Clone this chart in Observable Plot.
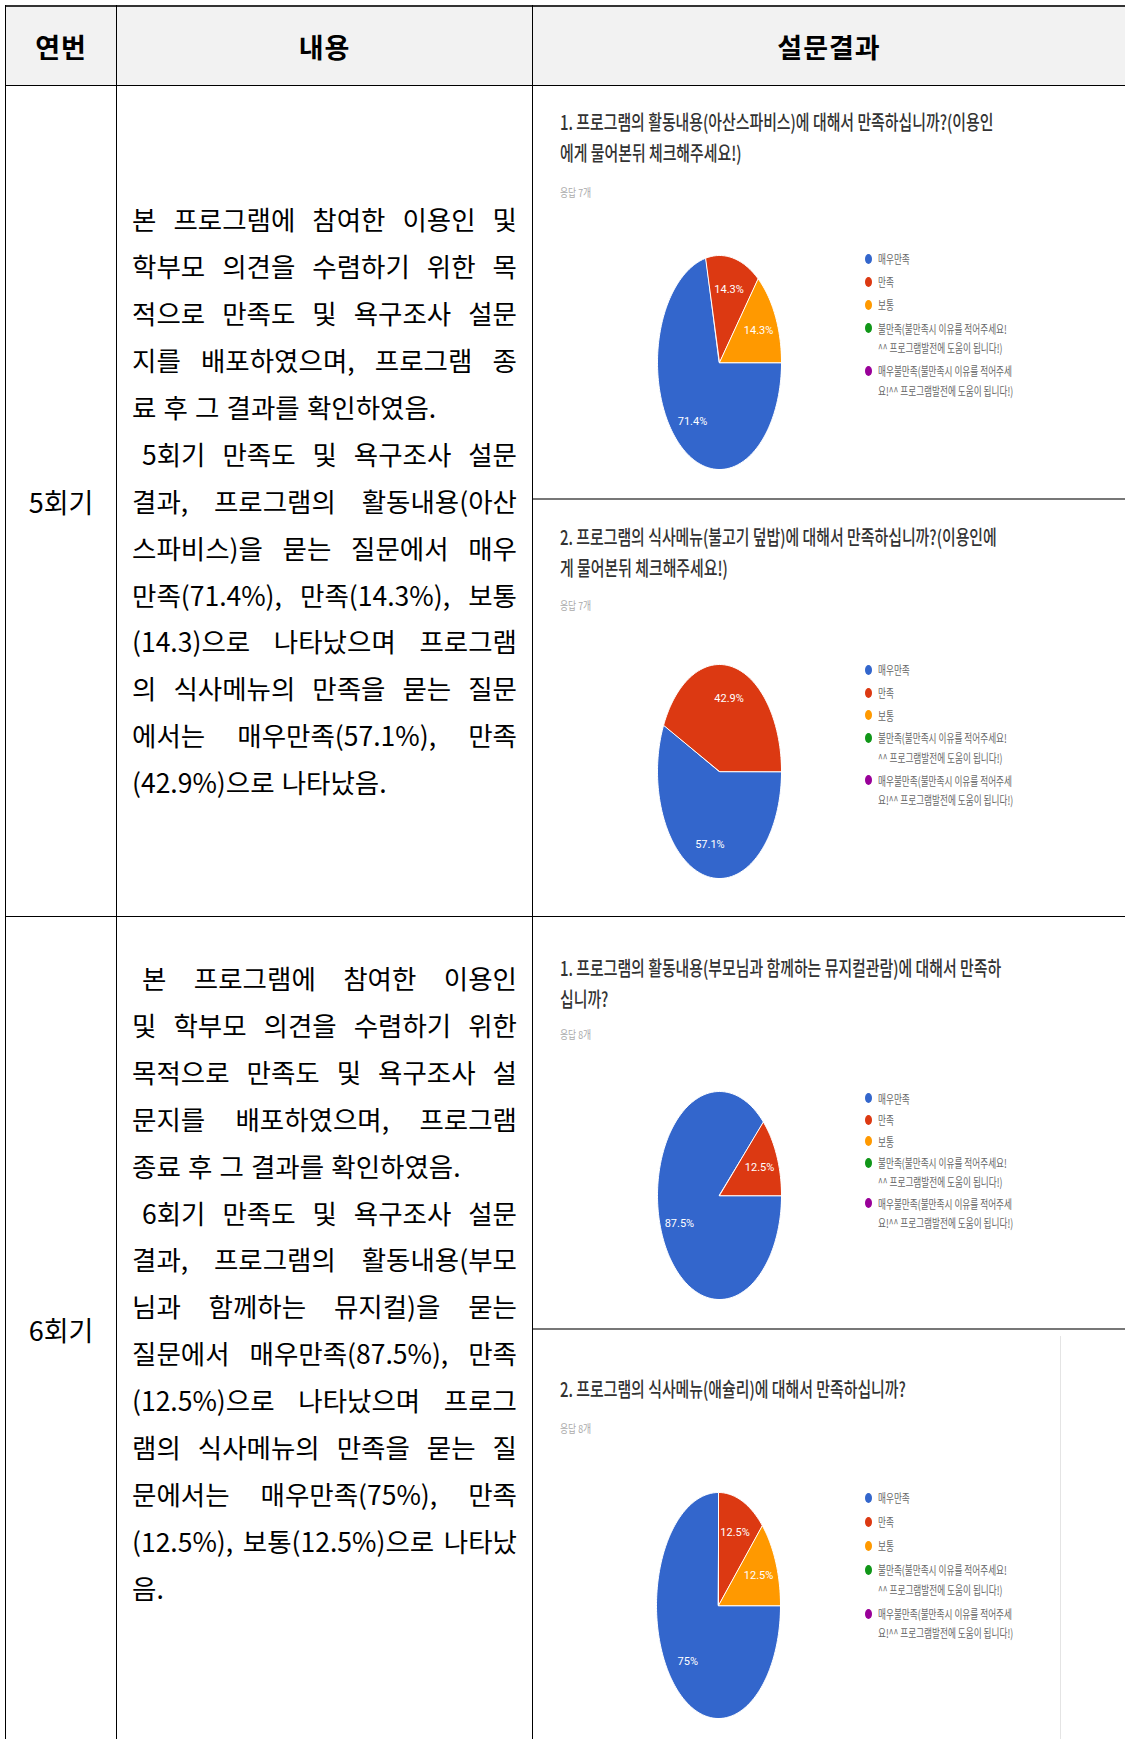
<!DOCTYPE html>
<html><head><meta charset="utf-8">
<script src="https://cdn.jsdelivr.net/npm/d3@7"></script>
<script src="https://cdn.jsdelivr.net/npm/@observablehq/plot@0.6"></script>
<style>
html,body{margin:0;padding:0;background:#fff;}
body{width:1125px;height:1739px;position:relative;overflow:hidden;font-family:"Noto Sans CJK KR","Noto Sans",sans-serif;color:#000;}
.abs{position:absolute;}
.cell{position:absolute;display:flex;align-items:center;justify-content:center;}
.line{position:absolute;white-space:nowrap;display:flex;overflow:visible;}
.line.j{justify-content:space-between;}
.line.n span{margin-right:0.27em;}
.title{position:absolute;white-space:nowrap;transform-origin:left top;color:#333;font-weight:500;}
.count{position:absolute;white-space:nowrap;transform-origin:left center;color:#aaa;font-size:11px;}
.leg{position:absolute;display:flex;flex-direction:column;}
.legitem{position:relative;}
.legdot{position:absolute;left:0;width:7px;height:10px;border-radius:50%;}
.legtxt{margin-left:13px;white-space:nowrap;transform-origin:left top;transform:scaleX(0.72);color:#666;font-size:12px;}
</style>
</head><body>
<script>
// ---------- data ----------
const headers = ["연번", "내용", "설문결과"];
const sessions = ["5회기", "6회기"];
const row1Paragraphs = [
  ["본 프로그램에 참여한 이용인 및", "학부모 의견을 수렴하기 위한 목", "적으로 만족도 및 욕구조사 설문", "지를 배포하였으며, 프로그램 종", "료 후 그 결과를 확인하였음."],
  [" 5회기 만족도 및 욕구조사 설문", "결과, 프로그램의 활동내용(아산", "스파비스)을 묻는 질문에서 매우", "만족(71.4%), 만족(14.3%), 보통", "(14.3)으로 나타났으며 프로그램", "의 식사메뉴의 만족을 묻는 질문", "에서는 매우만족(57.1%), 만족", "(42.9%)으로 나타났음."]
];
const row2Paragraphs = [
  [" 본 프로그램에 참여한 이용인", "및 학부모 의견을 수렴하기 위한", "목적으로 만족도 및 욕구조사 설", "문지를 배포하였으며, 프로그램", "종료 후 그 결과를 확인하였음."],
  [" 6회기 만족도 및 욕구조사 설문", "결과, 프로그램의 활동내용(부모", "님과 함께하는 뮤지컬)을 묻는", "질문에서 매우만족(87.5%), 만족", "(12.5%)으로 나타났으며 프로그", "램의 식사메뉴의 만족을 묻는 질", "문에서는 매우만족(75%), 만족", "(12.5%), 보통(12.5%)으로 나타났", "음."]
];
const categories = ["매우만족", "만족", "보통", "불만족", "매우불만족"];
const legendLines = [
  ["매우만족"],
  ["만족"],
  ["보통"],
  ["불만족(불만족시 이유를 적어주세요!", "^^ 프로그램발전에 도움이 됩니다!)"],
  ["매우불만족(불만족시 이유를 적어주세", "요!^^ 프로그램발전에 도움이 됩니다!)"]
];
const colors = ["#3366cc", "#dc3912", "#ff9900", "#109618", "#990099"];
const questionTitles = [
  ["1. 프로그램의 활동내용(아산스파비스)에 대해서 만족하십니까?(이용인", "에게 물어본뒤 체크해주세요!)"],
  ["2. 프로그램의 식사메뉴(불고기 덮밥)에 대해서 만족하십니까?(이용인에", "게 물어본뒤 체크해주세요!)"],
  ["1. 프로그램의 활동내용(부모님과 함께하는 뮤지컬관람)에 대해서 만족하", "십니까?"],
  ["2. 프로그램의 식사메뉴(애슐리)에 대해서 만족하십니까?"]
];
const responseCounts = ["응답 7개", "응답 7개", "응답 8개", "응답 8개"];
const q1Values = [71.4, 14.3, 14.3, 0, 0];
const q2Values = [57.1, 42.9, 0, 0, 0];
const q3Values = [87.5, 12.5, 0, 0, 0];
const q4Values = [75, 12.5, 12.5, 0, 0];
const surveyValues = [q1Values, q2Values, q3Values, q4Values];

// ---------- helpers ----------
const body = document.body;
function el(tag, cls, style, html) {
  const e = document.createElement(tag);
  if (cls) e.className = cls;
  if (style) Object.assign(e.style, style);
  if (html != null) e.textContent = html;
  body.appendChild(e);
  return e;
}
function rect(x, y, w, h, bg) { return el("div", "abs", {left: x + "px", top: y + "px", width: w + "px", height: h + "px", background: bg}); }

// header background
rect(6, 7, 1119, 78, "#f2f2f2");

// header texts
const headerCells = [[6, 116], [117, 532], [533, 1125]];
headers.forEach((h, i) => {
  el("div", "cell", {left: headerCells[i][0] + "px", top: "7px", width: (headerCells[i][1] - headerCells[i][0]) + "px", height: "78px", fontSize: "27px", fontWeight: "700", letterSpacing: "1px"}, h);
});

// session labels
const sessionRows = [[86, 916], [917, 1742]];
sessions.forEach((s, i) => {
  el("div", "cell", {left: "6px", top: sessionRows[i][0] + "px", width: "110px", height: (sessionRows[i][1] - sessionRows[i][0]) + "px", fontSize: "27px"}, s);
});

// body paragraphs
function drawParagraphs(paras, top) {
  const lh = 46.9, x0 = 132, w = 385;
  let k = 0;
  paras.forEach(lines => {
    lines.forEach((ln, li) => {
      const last = li === lines.length - 1;
      const indent = ln.startsWith(" ");
      const text = ln.trim();
      const d = el("div", "line " + (last ? "n" : "j"), {
        left: (x0 + (indent ? 10 : 0)) + "px", top: (top + k * lh) + "px",
        width: (w - (indent ? 10 : 0)) + "px", height: lh + "px", lineHeight: lh + "px", fontSize: "26.5px"
      });
      text.split(" ").forEach(wd => { const s = document.createElement("span"); s.textContent = wd; d.appendChild(s); });
      k++;
    });
  });
}
drawParagraphs(row1Paragraphs, 196.3);
drawParagraphs(row2Paragraphs, 955);

// survey panels
const panels = [
  {titleTop: 106, countY: 192, cx: 719, cy: 362, rx: 62, ry: 107, legTop: 258.5, lh: 19.5, gap: 3.8},
  {titleTop: 521, countY: 605, cx: 719, cy: 771, rx: 62, ry: 107, legTop: 670, lh: 19.5, gap: 3.2},
  {titleTop: 952, countY: 1034, cx: 719, cy: 1195, rx: 62, ry: 104, legTop: 1098, lh: 19, gap: 2.5},
  {titleTop: 1373, countY: 1428, cx: 718, cy: 1605, rx: 62, ry: 113, legTop: 1498, lh: 19.5, gap: 4.5}
];

function pieChart(values, W, H) {
  const total = d3.sum(values);
  let a = Math.PI / 2; // first slice starts at 3 o'clock, clockwise
  const pts = [], labels = [];
  values.forEach((v, i) => {
    if (!v) return;
    const span = v / total * 2 * Math.PI;
    const n = Math.max(2, Math.ceil(span / (Math.PI / 120)));
    pts.push({key: categories[i], x: 0, y: 0});
    for (let s = 0; s <= n; s++) {
      const t = a + span * s / n;
      pts.push({key: categories[i], x: Math.sin(t), y: Math.cos(t)});
    }
    const m = a + span / 2;
    labels.push({x: 0.7 * Math.sin(m), y: 0.7 * Math.cos(m), text: `${v}%`});
    a += span;
  });
  return Plot.plot({
    width: W, height: H, margin: 0,
    style: {background: "transparent", fontFamily: "Roboto, sans-serif"},
    x: {domain: [-1, 1], axis: null},
    y: {domain: [-1, 1], axis: null},
    color: {domain: categories, range: colors},
    marks: [
      Plot.line(pts, {x: "x", y: "y", z: "key", fill: "key", stroke: "white", strokeWidth: 1, curve: "linear-closed"}),
      Plot.text(labels, {x: "x", y: "y", text: "text", fill: "white", fontSize: 11})
    ]
  });
}

panels.forEach((p, i) => {
  // title
  const t = el("div", "title", {left: "560px", top: p.titleTop + "px", fontSize: "20px", lineHeight: "31px", transform: "scaleX(0.745)"});
  questionTitles[i].forEach((ln, j) => { if (j) t.appendChild(document.createElement("br")); t.appendChild(document.createTextNode(ln)); });
  // response count
  el("div", "count", {left: "560px", top: (p.countY - 8) + "px", lineHeight: "16px", transform: "scaleX(0.8)"}, responseCounts[i]);
  // pie
  const holder = el("div", "abs", {left: (p.cx - p.rx) + "px", top: (p.cy - p.ry) + "px"});
  holder.appendChild(pieChart(surveyValues[i], 2 * p.rx, 2 * p.ry));
  // legend
  const leg = el("div", "leg", {left: "865px", top: (p.legTop - p.lh / 2) + "px", gap: p.gap + "px"});
  legendLines.forEach((lines, j) => {
    const it = document.createElement("div"); it.className = "legitem";
    const dot = document.createElement("div"); dot.className = "legdot";
    Object.assign(dot.style, {background: colors[j], top: (p.lh / 2 - 5) + "px"});
    const tx = document.createElement("div"); tx.className = "legtxt";
    tx.style.lineHeight = p.lh + "px";
    lines.forEach((ln, k) => { if (k) tx.appendChild(document.createElement("br")); tx.appendChild(document.createTextNode(ln)); });
    it.appendChild(dot); it.appendChild(tx); leg.appendChild(it);
  });
});

// table rules
rect(5, 5, 1120, 2, "#333");        // top border
rect(5, 85, 1120, 1, "#000");       // header bottom
rect(5, 916, 1120, 1, "#000");      // row 1 bottom
rect(5, 5, 1, 1734, "#000");        // left border
rect(116, 5, 1, 1734, "#000");      // col1|col2
rect(532, 5, 1, 1734, "#000");      // col2|col3
rect(533, 498, 592, 2, "#777");     // inner split row 1
rect(533, 1328, 592, 2, "#777");    // inner split row 2
rect(1060, 1336, 1, 403, "#e4e4e4"); // faint screenshot edge

// fit overflowing body lines
document.querySelectorAll(".line").forEach(d => {
  let ls = 0;
  while (d.scrollWidth > d.clientWidth + 0.5 && ls > -3) { ls -= 0.25; d.style.letterSpacing = ls + "px"; }
});
</script>
</body></html>
